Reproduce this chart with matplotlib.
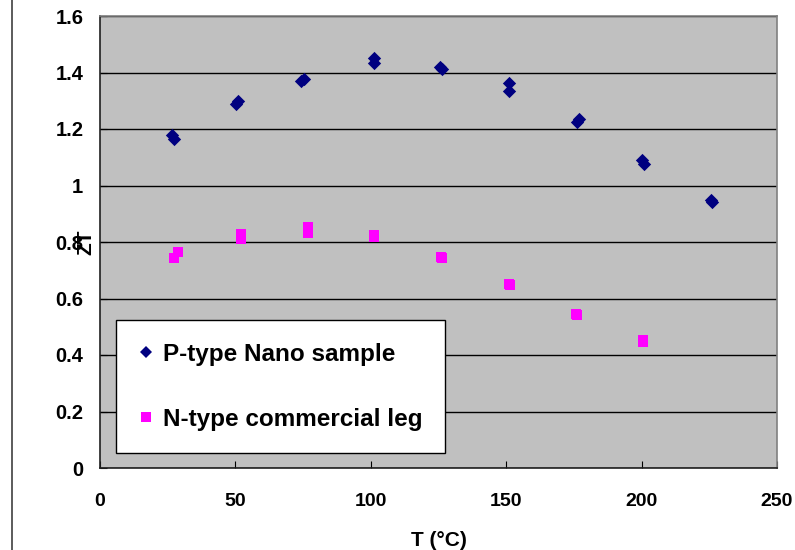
import numpy as np
from matplotlib import pyplot as plt
from matplotlib.lines import Line2D

# P-type nano sample, two measurements near each temperature
p_temp = [26.6, 27.2, 50.2, 51.1, 74.2, 75.2, 101.2, 101.2, 125.6, 126.2,
          151.0, 151.0, 176.0, 177.0, 200.1, 200.9, 225.6, 226.0]
p_zt = [1.179, 1.163, 1.288, 1.299, 1.370, 1.376, 1.450, 1.435, 1.420, 1.413,
        1.362, 1.335, 1.225, 1.237, 1.090, 1.076, 0.948, 0.942]

# N-type commercial leg
n_temp = [27.3, 28.9, 52.1, 52.1, 76.7, 76.7, 101.2, 101.2, 125.9, 126.3,
          151.0, 151.3, 175.8, 176.1, 200.5, 200.7]
n_zt = [0.744, 0.766, 0.830, 0.812, 0.852, 0.832, 0.825, 0.818, 0.748, 0.744,
        0.652, 0.647, 0.545, 0.542, 0.452, 0.446]

x_ticks = [0, 50, 100, 150, 200, 250]
y_ticks = [0, 0.2, 0.4, 0.6, 0.8, 1, 1.2, 1.4, 1.6]
y_tick_labels = ["0", "0.2", "0.4", "0.6", "0.8", "1", "1.2", "1.4", "1.6"]

plt.rcParams['font.family'] = ['Liberation Sans', 'DejaVu Sans']
plt.rcParams['font.weight'] = 'bold'

fig = plt.figure(figsize=(7.95, 5.5), dpi=100)
ax = fig.add_axes([100 / 795, 1 - 468 / 550, 677 / 795, 452 / 550])
ax.set_facecolor('#c0c0c0')

ax.scatter(p_temp, p_zt, marker='D', s=46, color='#000080', linewidths=0,
           zorder=3)
ax.scatter(n_temp, n_zt, marker='s', s=46, color='#ff00ff', linewidths=0,
           zorder=3)

ax.set_xlim(0, 250)
ax.set_ylim(0, 1.6)
ax.set_xticks(x_ticks)
ax.set_yticks(y_ticks)
ax.set_yticklabels(y_tick_labels)
ax.yaxis.grid(True, color='black', linewidth=1.0)
ax.set_axisbelow(True)

ax.tick_params(axis='x', direction='in', length=5, pad=18, labelsize=14,
               color='black')
ax.tick_params(axis='y', direction='in', length=5, pad=12, labelsize=14.5,
               color='black')
for lbl in ax.get_xticklabels() + ax.get_yticklabels():
    lbl.set_fontweight('bold')

for side in ['left', 'bottom']:
    ax.spines[side].set_color('#202020')
    ax.spines[side].set_linewidth(1.2)
for side in ['right', 'top']:
    ax.spines[side].set_color('#808080')
    ax.spines[side].set_linewidth(1.2)

ax.set_xlabel('T (°C)', fontsize=15, fontweight='bold', labelpad=15)
fig.text(86 / 795, 1 - 242 / 550, 'ZT', rotation=90, fontsize=15,
         fontweight='bold', ha='center', va='center')

handles = [
    Line2D([], [], marker='D', linestyle='none', color='#000080',
           markersize=6, markeredgewidth=0),
    Line2D([], [], marker='s', linestyle='none', color='#ff00ff',
           markersize=6.5, markeredgewidth=0),
]
leg = ax.legend(handles, ['P-type Nano sample', 'N-type commercial leg'],
                loc='lower left', bbox_to_anchor=(16 / 677, 15 / 452),
                fancybox=False, framealpha=1, edgecolor='black',
                prop={'size': 17.5, 'weight': 'bold'},
                handletextpad=0.4, handlelength=0.6, labelspacing=1.72,
                borderpad=0.92, borderaxespad=0)
leg.get_frame().set_linewidth(1.0)

# page border line on the left
fig.add_artist(Line2D([12 / 795, 12 / 795], [0, 1], color='#404040',
                      linewidth=1.2))

fig.savefig("out.png")
